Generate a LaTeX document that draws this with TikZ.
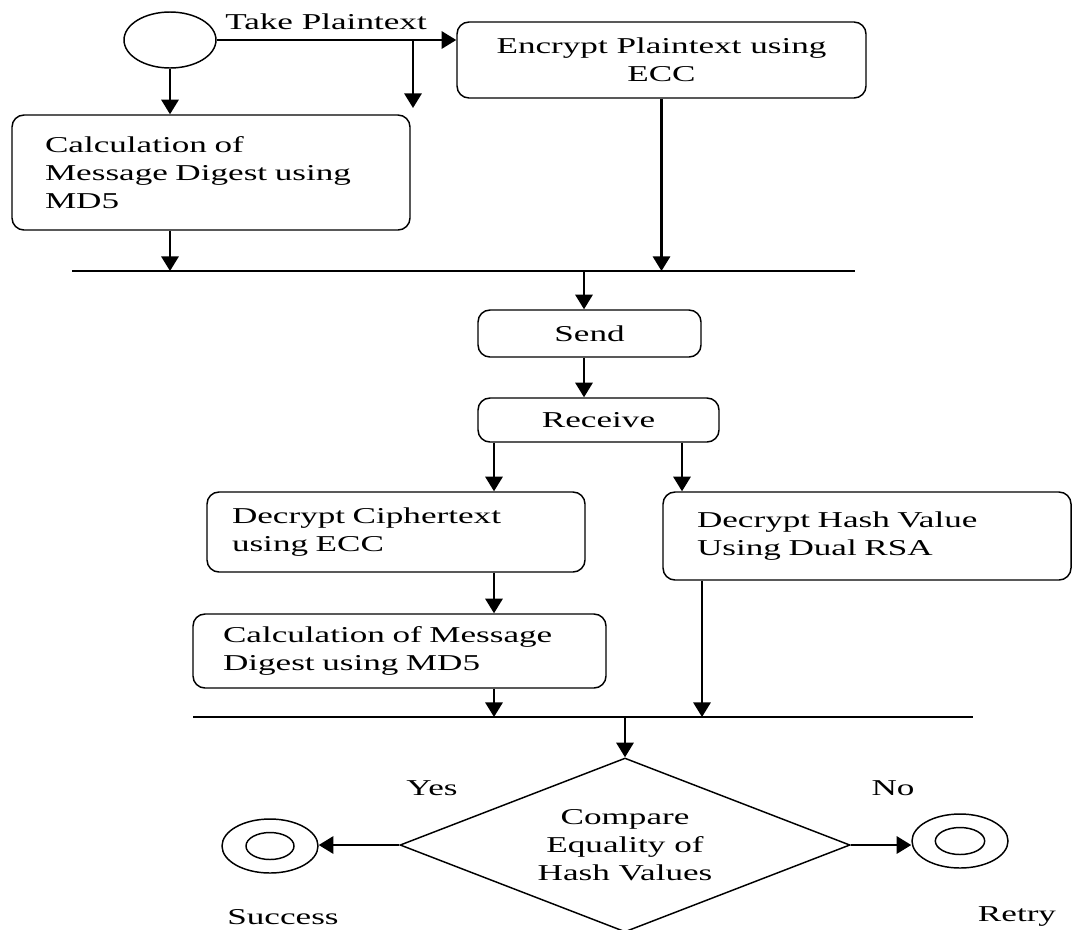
\documentclass[tikz,border=0pt]{standalone}
\usepackage{fontspec}
\setmainfont[FakeStretch=1.55]{Liberation Serif}
\usetikzlibrary{shapes.geometric, arrows.meta}

\tikzstyle{activity} = [
    rectangle,
    rounded corners=9pt,
    line width=1.1pt,
    draw=black
]
\tikzstyle{decision} = [
    diamond,
    shape aspect=2.586,
    minimum width=337.5pt,
    minimum height=130.5pt,
    inner sep=0pt,
    align=center,
    line width=1.1pt,
    draw=black
]
\tikzstyle{state} = [
    ellipse,
    inner sep=0pt,
    line width=1.1pt,
    draw=black
]
\tikzstyle{arrow} = [line width=1.7pt,-{Triangle[length=11pt,width=13pt]}]
\tikzstyle{bar} = [line width=1.6pt]

\begin{document}
\begin{tikzpicture}[x=0.75pt, y=-0.75pt, font=\fontsize{17}{21}\selectfont]

\useasboundingbox (0,0) rectangle (1073,929);

% sender side
\node (start) [state, minimum width=69pt, minimum height=42pt] at (170,40) {};

\node (encrypt) [activity, align=center, minimum width=306.75pt, minimum height=57pt]
at (661.5,60) {Encrypt Plaintext using\\ECC};

\node (calcA) [activity, align=left, inner xsep=24.75pt, text width=249pt, minimum height=86.25pt]
at (211,172.5) {Calculation of\\Message Digest using\\MD5};

\node (takelbl) at (326,22) {Take Plaintext};

% channel
\node (send) [activity, minimum width=167.25pt, minimum height=35.25pt] at (589.5,333.5) {Send};
\node (receive) [activity, minimum width=180.75pt, minimum height=33pt] at (598.5,420) {Receive};

% receiver side
\node (decC) [activity, align=left, inner xsep=18.75pt, text width=246pt, minimum height=60pt]
at (396,532) {Decrypt Ciphertext\\using ECC};

\node (decH) [activity, align=left, inner xsep=25.5pt, text width=255pt, minimum height=66pt]
at (867,536) {Decrypt Hash Value\\Using Dual RSA};

\node (calcB) [activity, align=left, inner xsep=22.5pt, text width=264.75pt, minimum height=55.5pt]
at (399.5,651) {Calculation of Message\\Digest using MD5};

\node (check) [decision] at (625,845) {Compare\\Equality of\\Hash Values};

% final states
\node (success) [state, minimum width=72pt, minimum height=40.5pt] at (270,846) {};
\node (successin) [state, minimum width=36pt, minimum height=20.25pt] at (success.center) {};
\node (retry) [state, minimum width=72pt, minimum height=40.5pt] at (960,841) {};
\node (retryin) [state, minimum width=37pt, minimum height=20.25pt] at (retry.center) {};

\node (yeslbl) at (432,788) {Yes};
\node (nolbl) at (893,788) {No};
\node (successlbl) at (283,917) {Success};
\node (retrylbl) at (1017,917) {Retry};

% join bars and lanes
\coordinate (bar1w) at (72,271);
\coordinate (bar1e) at (855,271);
\coordinate (bar2w) at (193,717);
\coordinate (bar2e) at (973,717);
\coordinate (fork) at (413,40);
\coordinate (forkend) at (413,108);
\coordinate (laneS) at (584,0);
\coordinate (laneC) at (494,0);
\coordinate (laneH) at (682,0);
\coordinate (laneD) at (702,0);

\draw [bar] (bar1w) -- (bar1e);
\draw [bar] (bar2w) -- (bar2e);

\draw [arrow] (start.east) -- (start.east -| encrypt.west);
\draw [arrow] (fork) -- (forkend);
\draw [arrow] (start.south) -- (calcA.north -| start.south);
\draw [arrow] (calcA.south -| start) -- (bar1w -| start);
\draw [arrow] (encrypt.south) -- (encrypt.south |- bar1w);
\draw [arrow] (bar1w -| laneS) -- (send.north -| laneS);
\draw [arrow] (send.south -| laneS) -- (receive.north -| laneS);
\draw [arrow] (receive.south -| laneC) -- (decC.north -| laneC);
\draw [arrow] (receive.south -| laneH) -- (decH.north -| laneH);
\draw [arrow] (decC.south -| laneC) -- (calcB.north -| laneC);
\draw [arrow] (calcB.south -| laneC) -- (bar2w -| laneC);
\draw [arrow] (decH.south -| laneD) -- (bar2w -| laneD);
\draw [arrow] (bar2w -| check.north) -- (check.north);
\draw [arrow] (check.west) -- (check.west -| success.east);
\draw [arrow] (check.east) -- (check.east -| retry.west);

\end{tikzpicture}
\end{document}
